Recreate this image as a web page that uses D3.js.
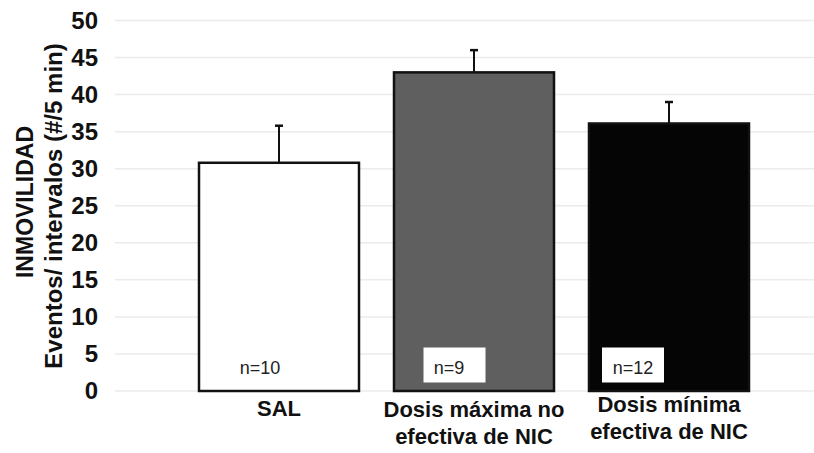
<!DOCTYPE html>
<html>
<head>
<meta charset="utf-8">
<script src="https://cdn.jsdelivr.net/npm/d3@7"></script>
<style>
  body { margin: 0; background: #fff; }
  svg text { font-family: "Liberation Sans", Arial, sans-serif; }
</style>
</head>
<body>
<svg id="chart" width="814" height="453"></svg>
<script>
// groups, means and the top of the error bar (mean + SEM)
var groups = ["SAL", "Dosis máxima no|efectiva de NIC", "Dosis mínima|efectiva de NIC"];
var means = [30.8, 43.0, 36.1];
var errTop = [35.8, 46.0, 39.0];
var nLabels = ["n=10", "n=9", "n=12"];
var fills = ["#ffffff", "#5f5f5f", "#050505"];
var yTicks = [0, 5, 10, 15, 20, 25, 30, 35, 40, 45, 50];

// hand placement of the n= labels / boxes, relative to bar centre
var nTextShift = [-19, -25, -36];
var nBoxShift = [null, -19.5, -36];
var catLabelY = [416, 417, 412];

var svg = d3.select("#chart");

var y = d3.scaleLinear().domain([0, 50]).range([391, 20.5]);
var x = d3.scaleBand().domain(groups)
	.range([181.5, 766.5])
	.paddingInner(35 / 195)
	.paddingOuter(17.5 / 195);
function mid(d) { return x(d) + x.bandwidth() / 2; }

// gridlines
svg.append("g").selectAll("line").data(yTicks).enter().append("line")
	.attr("x1", 115).attr("x2", 814)
	.attr("y1", function (d) { return y(d); })
	.attr("y2", function (d) { return y(d); })
	.attr("stroke", "#ebebeb").attr("stroke-width", 1.5);

// y axis labels (no axis line)
var yAxis = svg.append("g").attr("transform", "translate(115,0)")
	.call(d3.axisLeft(y).tickValues(yTicks).tickSize(0).tickPadding(17));
yAxis.select(".domain").remove();
yAxis.selectAll("text")
	.attr("font-family", "Liberation Sans, Arial, sans-serif")
	.attr("font-size", 24).attr("font-weight", "bold").attr("fill", "#111");

// axis title, two lines
svg.append("text")
	.attr("transform", "translate(33,202) rotate(-90)")
	.attr("text-anchor", "middle")
	.attr("font-size", 23).attr("font-weight", "bold").attr("fill", "#111")
	.text("INMOVILIDAD");
svg.append("text")
	.attr("transform", "translate(62,206) rotate(-90)")
	.attr("text-anchor", "middle")
	.attr("font-size", 24).attr("font-weight", "bold").attr("fill", "#111")
	.text("Eventos/ intervalos (#/5 min)");

// bars
svg.append("g").selectAll("rect").data(groups).enter().append("rect")
	.attr("x", function (d) { return x(d); })
	.attr("y", function (d, i) { return y(means[i]); })
	.attr("width", x.bandwidth())
	.attr("height", function (d, i) { return y(0) - y(means[i]); })
	.attr("fill", function (d, i) { return fills[i]; })
	.attr("stroke", "#111").attr("stroke-width", 2.5);

// error bars (upper only)
var eb = svg.append("g").selectAll("g").data(groups).enter().append("g");
eb.append("line")
	.attr("x1", mid).attr("x2", mid)
	.attr("y1", function (d, i) { return y(means[i]); })
	.attr("y2", function (d, i) { return y(errTop[i]); })
	.attr("stroke", "#111").attr("stroke-width", 2);
eb.append("line")
	.attr("x1", function (d) { return mid(d) - 4; })
	.attr("x2", function (d) { return mid(d) + 4; })
	.attr("y1", function (d, i) { return y(errTop[i]); })
	.attr("y2", function (d, i) { return y(errTop[i]); })
	.attr("stroke", "#111").attr("stroke-width", 2.5);

// n labels, white boxes on the dark bars
var nl = svg.append("g").selectAll("g").data(groups).enter().append("g")
	.attr("transform", function (d) { return "translate(" + mid(d) + ",0)"; });
nl.filter(function (d, i) { return nBoxShift[i] != null; }).append("rect")
	.attr("x", function (d) { return nBoxShift[groups.indexOf(d)] - 31; })
	.attr("y", 347.5).attr("width", 62).attr("height", 35)
	.attr("fill", "#fff");
nl.append("text")
	.attr("x", function (d, i) { return nTextShift[i]; })
	.attr("y", 374)
	.attr("text-anchor", "middle")
	.attr("font-size", 18).attr("fill", "#222")
	.text(function (d, i) { return nLabels[i]; });

// category labels
var cl = svg.append("g").selectAll("text").data(groups).enter().append("text")
	.attr("x", mid)
	.attr("y", function (d, i) { return catLabelY[i]; })
	.attr("text-anchor", "middle")
	.attr("font-size", 22).attr("font-weight", "bold").attr("fill", "#111");
cl.selectAll("tspan").data(function (d) { return d.split("|"); }).enter().append("tspan")
	.attr("x", function () { return this.parentNode.getAttribute("x"); })
	.attr("dy", function (d, i) { return i == 0 ? 0 : 27; })
	.text(function (d) { return d; });
</script>
</body>
</html>
